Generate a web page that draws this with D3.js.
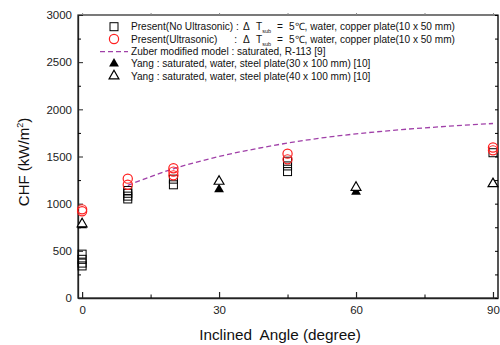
<!DOCTYPE html>
<html lang="en">
<head>
  <meta charset="UTF-8">
  <title>CHF vs Inclined Angle</title>
  <style>
    body { margin: 0; background: #ffffff; }
    svg { display: block; font-family: "Liberation Sans", Arial, sans-serif; }
    .tick text { font-size: 11.5px; fill: #222; }
  </style>
</head>
<body>
  <svg id="chart" width="500" height="345"></svg>

  <script src="https://cdn.jsdelivr.net/npm/d3@7"></script>
  <script>
    const width = 500;
    const height = 345;

    // Present, no ultrasonic (open squares)
    const noUltraAngle = [0, 0, 0, 0, 10, 10, 10, 10, 20, 20, 45, 45, 45, 90];
    const noUltraChf   = [340, 370, 410, 465, 1050, 1080, 1110, 1140, 1200, 1260, 1340, 1400, 1450, 1540];

    // Present, ultrasonic (open red circles)
    const ultraAngle = [0, 0, 10, 10, 20, 20, 20, 45, 45, 90, 90];
    const ultraChf   = [920, 940, 1200, 1265, 1300, 1340, 1375, 1470, 1530, 1565, 1595];

    // Zuber modified model (dashed)
    const zuberAngle = [10, 20, 30, 40, 50, 60, 70, 80, 90];
    const zuberChf   = [1194, 1370, 1500, 1600, 1680, 1740, 1785, 1820, 1850];

    // Yang 30 x 100 mm (filled triangles)
    const yangFilledAngle = [0, 30, 60];
    const yangFilledChf   = [770, 1150, 1125];

    // Yang 40 x 100 mm (open triangles)
    const yangOpenAngle = [0, 30, 60, 90];
    const yangOpenChf   = [785, 1236, 1172, 1211];

    const xTicks = [0, 30, 60, 90];
    const xMinor = [15, 45, 75];
    const yTicks = [0, 500, 1000, 1500, 2000, 2500, 3000];
    const yMinor = [250, 750, 1250, 1750, 2250, 2750];

    const legendLabels = [
      "Present(No Ultrasonic) :",
      "Present(Ultrasonic)      :",
      "Zuber modified model : saturated, R-113 [9]",
      "Yang : saturated, water, steel plate(30 x 100 mm) [10]",
      "Yang : saturated, water, steel plate(40 x 100 mm) [10]"
    ];

    const plotL = 78, plotR = 498, plotT = 15, plotB = 298;

    const svg = d3.select("#chart");

    const x = d3.scaleLinear().domain([-0.9, 91.1]).range([plotL, plotR]);
    const y = d3.scaleLinear().domain([0, 3000]).range([plotB, plotT]);

    // frame
    svg.append("rect")
      .attr("x", plotL).attr("y", plotT)
      .attr("width", plotR - plotL).attr("height", plotB - plotT)
      .attr("fill", "none").attr("stroke", "#333").attr("stroke-width", 1.3);
    svg.append("line")
      .attr("x1", plotR).attr("x2", plotR).attr("y1", plotT).attr("y2", plotB)
      .attr("stroke", "#555").attr("stroke-width", 2);

    // bottom axis
    const xAxis = svg.append("g")
      .attr("transform", `translate(0,${plotB})`)
      .call(d3.axisBottom(x).tickValues(xTicks).tickFormat(d3.format("d"))
        .tickSizeInner(-6).tickSizeOuter(0).tickPadding(8));
    xAxis.select(".domain").attr("stroke", "#222").attr("stroke-width", 1.3);
    xAxis.selectAll(".tick line").attr("stroke", "#222").attr("stroke-width", 1.2);

    svg.append("g")
      .attr("transform", `translate(0,${plotB})`)
      .call(d3.axisBottom(x).tickValues(xMinor).tickSizeInner(-3.5).tickSizeOuter(0).tickFormat(""))
      .call(g => g.select(".domain").remove());

    // top ticks (small, outward)
    svg.append("g")
      .attr("transform", `translate(0,${plotT})`)
      .call(d3.axisTop(x).tickValues(d3.merge([xTicks, xMinor])).tickSizeInner(2).tickSizeOuter(0).tickFormat(""))
      .call(g => g.select(".domain").remove())
      .selectAll(".tick line").attr("stroke", "#888");

    // left axis
    const yAxis = svg.append("g")
      .attr("transform", `translate(${plotL},0)`)
      .call(d3.axisLeft(y).tickValues(yTicks).tickFormat(d3.format("d"))
        .tickSizeInner(-5).tickSizeOuter(0).tickPadding(6));
    yAxis.select(".domain").attr("stroke", "#222").attr("stroke-width", 1.3);
    yAxis.selectAll(".tick line").attr("stroke", "#222");

    svg.append("g")
      .attr("transform", `translate(${plotL},0)`)
      .call(d3.axisLeft(y).tickValues(yMinor).tickSizeInner(-3).tickSizeOuter(0).tickFormat(""))
      .call(g => g.select(".domain").remove());

    // right ticks
    svg.append("g")
      .attr("transform", `translate(${plotR},0)`)
      .call(d3.axisRight(y).tickValues(d3.merge([yTicks, yMinor])).tickSizeInner(-3).tickSizeOuter(0).tickFormat(""))
      .call(g => g.select(".domain").remove());

    // axis titles
    svg.append("text")
      .attr("x", 280).attr("y", 340)
      .attr("text-anchor", "middle")
      .style("font-size", "15.3px").style("fill", "#111")
      .style("white-space", "pre")
      .text("Inclined  Angle (degree)");

    const yt = svg.append("text")
      .attr("transform", "translate(29,162) rotate(-90)")
      .attr("text-anchor", "middle")
      .style("font-size", "15px").style("fill", "#111");
    yt.append("tspan").text("CHF (kW/m");
    yt.append("tspan").attr("dy", -6).style("font-size", "9px").text("2");
    yt.append("tspan").attr("dy", 6).text(")");

    // Zuber line
    const line = d3.line().x(d => x(d[0])).y(d => y(d[1])).curve(d3.curveMonotoneX);
    svg.append("path")
      .datum(d3.zip(zuberAngle, zuberChf))
      .attr("d", line)
      .attr("fill", "none")
      .attr("stroke", "#a040a8")
      .attr("stroke-width", 1.3)
      .attr("stroke-dasharray", "5,3");

    const tri = d3.symbol().type(d3.symbolTriangle).size(42);

    // Yang filled
    svg.append("g").selectAll("path")
      .data(d3.zip(yangFilledAngle, yangFilledChf))
      .join("path")
      .attr("d", tri)
      .attr("transform", d => `translate(${x(d[0])},${y(d[1])})`)
      .attr("fill", "#000");

    // Yang open
    svg.append("g").selectAll("path")
      .data(d3.zip(yangOpenAngle, yangOpenChf))
      .join("path")
      .attr("d", tri)
      .attr("transform", d => `translate(${x(d[0])},${y(d[1])})`)
      .attr("fill", "#fff")
      .attr("stroke", "#000").attr("stroke-width", 1.2);

    // squares
    svg.append("g").selectAll("rect")
      .data(d3.zip(noUltraAngle, noUltraChf))
      .join("rect")
      .attr("x", d => x(d[0]) - 4).attr("y", d => y(d[1]) - 4)
      .attr("width", 8).attr("height", 8)
      .attr("fill", "none").attr("stroke", "#000").attr("stroke-width", 1);

    // circles
    svg.append("g").selectAll("circle")
      .data(d3.zip(ultraAngle, ultraChf))
      .join("circle")
      .attr("cx", d => x(d[0])).attr("cy", d => y(d[1]))
      .attr("r", 4.6)
      .attr("fill", "none").attr("stroke", "#ff2020").attr("stroke-width", 1.2);

    // legend
    const legY = [26.7, 39, 51.6, 63.6, 76];
    const mx = 114, tx = 131;
    const leg = svg.append("g").style("font-size", "10.1px").style("fill", "#111");

    leg.append("rect").attr("x", mx - 4).attr("y", legY[0] - 4).attr("width", 8).attr("height", 8)
      .attr("fill", "none").attr("stroke", "#000");
    leg.append("circle").attr("cx", mx).attr("cy", legY[1]).attr("r", 4.6)
      .attr("fill", "none").attr("stroke", "#ff2020").attr("stroke-width", 1.2);
    leg.append("line").attr("x1", 100).attr("x2", 128).attr("y1", legY[2]).attr("y2", legY[2])
      .attr("stroke", "#a040a8").attr("stroke-width", 1.3).attr("stroke-dasharray", "5,3");
    leg.append("path").attr("d", tri).attr("transform", `translate(${mx},${legY[3]})`).attr("fill", "#000");
    leg.append("path").attr("d", tri).attr("transform", `translate(${mx},${legY[4]})`)
      .attr("fill", "#fff").attr("stroke", "#000").attr("stroke-width", 1.2);

    legendLabels.forEach((label, i) => {
      const t = leg.append("text").attr("x", tx).attr("y", legY[i] + 3.6);
      if (i < 2) {
        t.append("tspan").text(label).style("white-space", "pre");
        t.append("tspan").attr("x", 243).text("Δ");
        t.append("tspan").attr("x", 256).text("T");
        t.append("tspan").attr("dy", 3).style("font-size", "5.5px").text("sub");
        t.append("tspan").attr("dy", -3).attr("x", 277).text("=");
        t.append("tspan").attr("x", 289).text("5℃, water, copper plate(10 x 50 mm)");
      } else {
        t.text(label);
      }
    });
  </script>
</body>
</html>
